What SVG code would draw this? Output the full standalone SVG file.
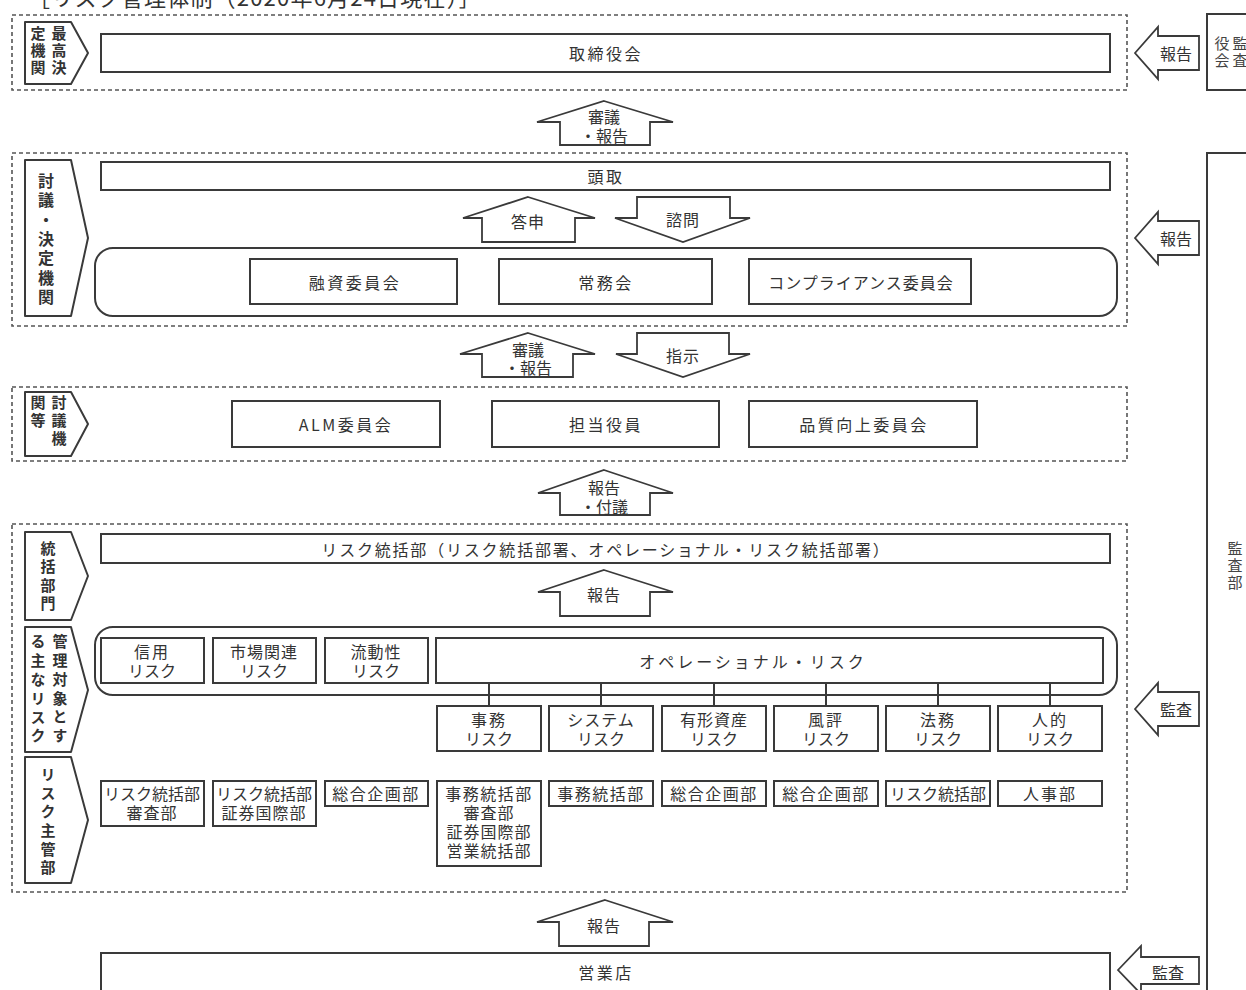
<svg xmlns="http://www.w3.org/2000/svg" width="1246" height="990" viewBox="0 0 1246 990">
<style>
.bg{fill:#fff}
.box{fill:#fff;stroke:#3a3a3a;stroke-width:2}
.rbox{fill:none;stroke:#3a3a3a;stroke-width:2}
.dash{fill:none;stroke:#555;stroke-width:1.6;stroke-dasharray:4 3}
.arr{fill:#fff;stroke:#3a3a3a;stroke-width:1.8;stroke-linejoin:miter}
.lab{fill:#fff;stroke:#3a3a3a;stroke-width:2;stroke-linejoin:round}
.ln{stroke:#3a3a3a;stroke-width:2;fill:none}
.t{font-family:"Noto Sans CJK JP","Noto Sans CJK SC",sans-serif;font-size:16px;fill:#333;text-anchor:middle;dominant-baseline:central}
.s{font-size:15px}
.w{letter-spacing:2.5px}
.v{font-family:"Noto Sans CJK JP","Noto Sans CJK SC",sans-serif;font-size:15px;font-weight:bold;fill:#333;writing-mode:vertical-rl;text-anchor:start}
.vr{font-family:"Noto Sans CJK JP","Noto Sans CJK SC",sans-serif;font-size:15px;fill:#444;writing-mode:vertical-rl;text-anchor:start}
</style>
<rect class="bg" x="0" y="0" width="1246" height="990"/>
<text x="28" y="6" style="font-family:'Noto Sans CJK JP',sans-serif;font-size:22px;letter-spacing:1.2px;fill:#333">［リスク管理体制（2020年6月24日現在）］</text>

<!-- sections (dashed) -->
<g id="sections">
<rect class="dash" x="12" y="15" width="1115" height="75"/>
<rect class="dash" x="12" y="153" width="1115" height="173"/>
<rect class="dash" x="12" y="387" width="1115" height="74"/>
<rect class="dash" x="12" y="524" width="1115" height="368"/>
</g>

<!-- left labels -->
<g id="label-saiko">
<path class="lab" d="M25,22 H71 L88,53 L71,84 H25 Z"/>
<text class="v" style="letter-spacing:2px"><tspan x="59" y="26">最高決</tspan><tspan x="38" y="26">定機関</tspan></text>
</g>
<g id="label-kettei">
<path class="lab" d="M25,160 H71 L88,238 L71,316 H25 Z"/>
<text class="v" x="46" y="173" style="font-size:16px;letter-spacing:3.3px">討議・決定機関</text>
</g>
<g id="label-togi">
<path class="lab" d="M25,392 H71 L88,424 L71,456 H25 Z"/>
<text class="v" style="letter-spacing:3px"><tspan x="59" y="395">討議機</tspan><tspan x="38" y="395">関等</tspan></text>
</g>
<g id="label-tokatsu">
<path class="lab" d="M25,532 H71 L88,576 L71,620 H25 Z"/>
<text class="v" x="48" y="541" style="letter-spacing:3.3px">統括部門</text>
</g>
<g id="label-risk">
<path class="lab" d="M25,627 H71 L88,690 L71,752 H25 Z"/>
<text class="v" style="letter-spacing:3.8px"><tspan x="60" y="634">管理対象とす</tspan><tspan x="38" y="634">る主なリスク</tspan></text>
</g>
<g id="label-shukan">
<path class="lab" d="M25,757 H71 L88,820 L71,883 H25 Z"/>
<text class="v" x="48" y="767" style="letter-spacing:3.6px">リスク主管部</text>
</g>

<!-- section 1 -->
<g id="torishimariyakukai">
<rect class="box" x="101" y="34" width="1009" height="38"/>
<text class="t w" x="606" y="53">取締役会</text>
</g>
<g id="kansayakukai">
<rect class="box" x="1207" y="14" width="60" height="76"/>
<text class="vr" style="letter-spacing:2px"><tspan x="1240" y="36">監査</tspan><tspan x="1222" y="36">役会</tspan></text>
</g>

<!-- section 2 -->
<g id="todori">
<rect class="box" x="101" y="162" width="1009" height="28"/>
<text class="t w" x="606" y="176">頭取</text>
</g>
<g id="group-committees">
<rect class="rbox" x="95" y="248" width="1022" height="68" rx="18"/>
</g>
<g id="yushi">
<rect class="box" x="250" y="259" width="207" height="45"/>
<text class="t w" x="355" y="282">融資委員会</text>
</g>
<g id="jomukai">
<rect class="box" x="499" y="259" width="213" height="45"/>
<text class="t w" x="606" y="282">常務会</text>
</g>
<g id="compliance">
<rect class="box" x="749" y="259" width="222" height="45"/>
<text class="t" x="861" y="282" style="letter-spacing:1px">コンプライアンス委員会</text>
</g>

<!-- section 3 -->
<g id="alm">
<rect class="box" x="232" y="401" width="208" height="46"/>
<text class="t w" x="346" y="424">ALM委員会</text>
</g>
<g id="tanto">
<rect class="box" x="492" y="401" width="227" height="46"/>
<text class="t w" x="606" y="424">担当役員</text>
</g>
<g id="hinshitsu">
<rect class="box" x="749" y="401" width="228" height="46"/>
<text class="t w" x="864" y="424">品質向上委員会</text>
</g>

<!-- section 4 -->
<g id="risk-tokatsubu">
<rect class="box" x="101" y="534" width="1009" height="29"/>
<text class="t" x="606" y="549" style="letter-spacing:1.8px">リスク統括部（リスク統括部署、オペレーショナル・リスク統括部署）</text>
</g>
<g id="group-risks">
<rect class="rbox" x="95" y="627" width="1022" height="68" rx="18"/>
</g>
<g id="shinyo">
<rect class="box" x="101" y="638" width="103" height="45"/>
<text class="t"><tspan x="152" y="651" style="letter-spacing:2px">信用</tspan><tspan x="152" y="670">リスク</tspan></text>
</g>
<g id="shijo">
<rect class="box" x="213" y="638" width="103" height="45"/>
<text class="t"><tspan x="264" y="651" style="letter-spacing:1px">市場関連</tspan><tspan x="264" y="670">リスク</tspan></text>
</g>
<g id="ryudosei">
<rect class="box" x="325" y="638" width="103" height="45"/>
<text class="t"><tspan x="376" y="651" style="letter-spacing:1px">流動性</tspan><tspan x="376" y="670">リスク</tspan></text>
</g>
<g id="operational">
<rect class="box" x="436" y="638" width="667" height="45"/>
<text class="t" x="753" y="661" style="letter-spacing:3px">オペレーショナル・リスク</text>
</g>
<g id="jimu-risk">
<rect class="box" x="437" y="706" width="104" height="45"/>
<text class="t"><tspan x="489" y="719" style="letter-spacing:2px">事務</tspan><tspan x="489" y="738">リスク</tspan></text>
</g>
<g id="system-risk">
<rect class="box" x="549" y="706" width="104" height="45"/>
<text class="t"><tspan x="601" y="719" style="letter-spacing:1px">システム</tspan><tspan x="601" y="738">リスク</tspan></text>
</g>
<g id="yukei-risk">
<rect class="box" x="662" y="706" width="104" height="45"/>
<text class="t"><tspan x="714" y="719" style="letter-spacing:1px">有形資産</tspan><tspan x="714" y="738">リスク</tspan></text>
</g>
<g id="fuhyo-risk">
<rect class="box" x="774" y="706" width="104" height="45"/>
<text class="t"><tspan x="826" y="719" style="letter-spacing:2px">風評</tspan><tspan x="826" y="738">リスク</tspan></text>
</g>
<g id="homu-risk">
<rect class="box" x="886" y="706" width="104" height="45"/>
<text class="t"><tspan x="938" y="719" style="letter-spacing:2px">法務</tspan><tspan x="938" y="738">リスク</tspan></text>
</g>
<g id="jinteki-risk">
<rect class="box" x="998" y="706" width="104" height="45"/>
<text class="t"><tspan x="1050" y="719" style="letter-spacing:2px">人的</tspan><tspan x="1050" y="738">リスク</tspan></text>
</g>

<!-- risk owner departments -->
<g id="dept-1">
<rect class="box" x="101" y="781" width="103" height="45"/>
<text class="t"><tspan x="152" y="793">リスク統括部</tspan><tspan x="152" y="812" style="letter-spacing:1px">審査部</tspan></text>
</g>
<g id="dept-2">
<rect class="box" x="213" y="781" width="103" height="45"/>
<text class="t"><tspan x="264" y="793">リスク統括部</tspan><tspan x="264" y="812" style="letter-spacing:1px">証券国際部</tspan></text>
</g>
<g id="dept-3">
<rect class="box" x="325" y="781" width="103" height="25"/>
<text class="t" x="376" y="793" style="letter-spacing:1.5px">総合企画部</text>
</g>
<g id="dept-4">
<rect class="box" x="437" y="781" width="104" height="85"/>
<text class="t"><tspan x="489" y="793" style="letter-spacing:1.5px">事務統括部</tspan><tspan x="489" y="812" style="letter-spacing:1px">審査部</tspan><tspan x="489" y="831" style="letter-spacing:1px">証券国際部</tspan><tspan x="489" y="850" style="letter-spacing:1px">営業統括部</tspan></text>
</g>
<g id="dept-5">
<rect class="box" x="549" y="781" width="104" height="25"/>
<text class="t" x="601" y="793" style="letter-spacing:1.5px">事務統括部</text>
</g>
<g id="dept-6">
<rect class="box" x="662" y="781" width="104" height="25"/>
<text class="t" x="714" y="793" style="letter-spacing:1.5px">総合企画部</text>
</g>
<g id="dept-7">
<rect class="box" x="774" y="781" width="104" height="25"/>
<text class="t" x="826" y="793" style="letter-spacing:1.5px">総合企画部</text>
</g>
<g id="dept-8">
<rect class="box" x="886" y="781" width="104" height="25"/>
<text class="t" x="938" y="793">リスク統括部</text>
</g>
<g id="dept-9">
<rect class="box" x="998" y="781" width="104" height="25"/>
<text class="t" x="1050" y="793" style="letter-spacing:2px">人事部</text>
</g>

<!-- bottom -->
<g id="eigyoten">
<rect class="box" x="101" y="953" width="1009" height="50"/>
<text class="t w" x="606" y="972">営業店</text>
</g>
<g id="kansabu">
<rect class="box" x="1207" y="153" width="60" height="860"/>
<text class="vr" x="1235" y="541" style="letter-spacing:2px">監査部</text>
</g>

<!-- connectors -->
<g id="connectors">
<line class="ln" x1="489" y1="683" x2="489" y2="706"/>
<line class="ln" x1="601" y1="683" x2="601" y2="706"/>
<line class="ln" x1="714" y1="683" x2="714" y2="706"/>
<line class="ln" x1="826" y1="683" x2="826" y2="706"/>
<line class="ln" x1="938" y1="683" x2="938" y2="706"/>
<line class="ln" x1="1050" y1="683" x2="1050" y2="706"/>

<path class="arr" d="M604,101 L673,122 H650 V145 H560 V122 H537 Z"/>
<text class="t"><tspan x="604" y="116">審議</tspan><tspan x="604" y="135">・報告</tspan></text>

<path class="arr" d="M528,197 L595,218 H575 V242 H482 V218 H463 Z"/>
<text class="t" x="528" y="221" style="letter-spacing:1px">答申</text>
<path class="arr" d="M637,197 H730 V218 H750 L683,242 L615,218 H637 Z"/>
<text class="t" x="683" y="219" style="letter-spacing:1px">諮問</text>

<path class="arr" d="M528,333 L595,354 H573 V377 H482 V354 H460 Z"/>
<text class="t"><tspan x="528" y="349">審議</tspan><tspan x="528" y="367">・報告</tspan></text>
<path class="arr" d="M637,333 H729 V354 H750 L683,377 L616,354 H637 Z"/>
<text class="t" x="683" y="355" style="letter-spacing:1px">指示</text>

<path class="arr" d="M604,470 L673,493 H650 V515 H560 V493 H538 Z"/>
<text class="t"><tspan x="604" y="487">報告</tspan><tspan x="604" y="506">・付議</tspan></text>

<path class="arr" d="M604,570 L673,592 H650 V616 H560 V592 H538 Z"/>
<text class="t" x="604" y="594" style="letter-spacing:1px">報告</text>

<path class="arr" d="M605,900 L673,922 H649 V946 H559 V922 H537 Z"/>
<text class="t" x="604" y="925" style="letter-spacing:1px">報告</text>

<path class="arr" d="M1135,53 L1158,27 V36 H1199 V70 H1158 V79 Z"/>
<text class="t" x="1176" y="53">報告</text>
<path class="arr" d="M1135,238 L1158,212 V221 H1199 V255 H1158 V264 Z"/>
<text class="t" x="1176" y="238">報告</text>
<path class="arr" d="M1135,709 L1158,683 V692 H1199 V726 H1158 V735 Z"/>
<text class="t" x="1176" y="709">監査</text>
<path class="arr" d="M1118,970 L1141,946 V957 H1199 V984 H1141 V994 Z"/>
<text class="t" x="1168" y="972">監査</text>
</g>
</svg>
